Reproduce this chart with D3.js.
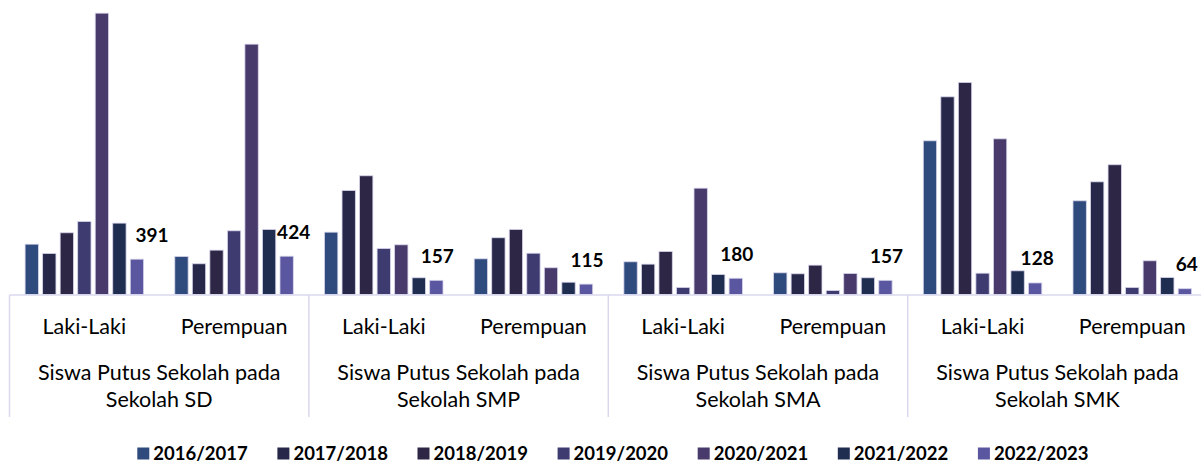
<!DOCTYPE html>
<html>
<head>
<meta charset="utf-8">
<script src="https://cdn.jsdelivr.net/npm/d3@7"></script>
<style>
  body { margin: 0; background: #fff; }
  text { font-family: Lato, "Open Sans", sans-serif; fill: #000; }
</style>
</head>
<body>
<div id="chart"></div>
<script>
// Data
const groups = ['Sekolah SD', 'Sekolah SMP', 'Sekolah SMA', 'Sekolah SMK'];
const genders = ['Laki-Laki', 'Perempuan'];
const years = ['2016/2017', '2017/2018', '2018/2019', '2019/2020', '2020/2021', '2021/2022', '2022/2023'];

// one array per school year, order: SD L, SD P, SMP L, SMP P, SMA L, SMA P, SMK L, SMK P
const y2016 = [557, 421, 690, 395, 362, 240, 1701, 1037];
const y2017 = [454, 340, 1151, 628, 336, 229, 2188, 1247];
const y2018 = [683, 491, 1314, 720, 476, 325, 2347, 1436];
const y2019 = [808, 705, 509, 457, 78, 44, 236, 78];
const y2020 = [3114, 2771, 550, 296, 1177, 233, 1723, 373];
const y2021 = [790, 720, 185, 136, 221, 185, 262, 188];
const y2022 = [391, 424, 157, 115, 180, 157, 128, 64];

const seriesValues = [y2016, y2017, y2018, y2019, y2020, y2021, y2022];
const colors = ['#2f4b7e', '#272849', '#2e2645', '#3e3b70', '#483a6b', '#1f2d51', '#5a56a0'];

// manual shift of the labels (Excel moved two of them aside)
const labelNudge = [15, 7, 1, 1, 1, 1, 2, 2];

const width = 1201;
const height = 466;

const svg = d3.select('#chart')
  .append('svg')
  .attr('width', width)
  .attr('height', height);

// categories: group|gender
const cats = [];
groups.forEach((g) => genders.forEach((s) => cats.push(g + '|' + s)));

const table = cats.map((c, i) => {
  const row = { key: c };
  years.forEach((y, j) => { row[y] = seriesValues[j][i]; });
  return row;
});

const x0 = d3.scaleBand().domain(cats).range([9.5, 9.5 + 8 * 149.7]);
const x1 = d3.scaleBand().domain(years).range([0, x0.bandwidth()])
  .paddingInner(0.24).paddingOuter(0.89);
const yScale = d3.scaleLinear().domain([0, 3200]).range([294.5, 5.4]);
const color = d3.scaleOrdinal().domain(years).range(colors);

// bars
const catG = svg.selectAll('g.cat')
  .data(table)
  .enter()
  .append('g')
  .attr('class', 'cat')
  .attr('transform', (d) => 'translate(' + x0(d.key) + ',0)');

catG.selectAll('rect')
  .data((d) => years.map((y) => ({ year: y, value: d[y] })))
  .enter()
  .append('rect')
  .attr('x', (d) => x1(d.year))
  .attr('y', (d) => yScale(d.value))
  .attr('width', x1.bandwidth())
  .attr('height', (d) => yScale(0) - yScale(d.value))
  .attr('fill', (d) => color(d.year))
  .attr('stroke', '#d6d4ea')
  .attr('stroke-width', 0.8);

// value labels (last series only)
const last = years[years.length - 1];
catG.append('text')
  .attr('x', (d, i) => x1(last) + x1.bandwidth() / 2 + labelNudge[i])
  .attr('y', (d) => yScale(d[last]) - 17.5)
  .attr('text-anchor', 'middle')
  .attr('font-size', 19)
  .attr('font-weight', 'bold')
  .text((d) => d[last]);

// axis line and group separators
const axisColor = '#d9d8ee';
svg.append('line')
  .attr('x1', 9.5).attr('x2', width)
  .attr('y1', 295).attr('y2', 295)
  .attr('stroke', axisColor).attr('stroke-width', 1.5);

const groupEdges = groups.map((g) => x0(g + '|' + genders[0]));
svg.selectAll('line.sep')
  .data(groupEdges)
  .enter()
  .append('line')
  .attr('class', 'sep')
  .attr('x1', (d) => d).attr('x2', (d) => d)
  .attr('y1', 295).attr('y2', 417)
  .attr('stroke', axisColor).attr('stroke-width', 1.5);

// gender labels
svg.selectAll('text.gender')
  .data(cats)
  .enter()
  .append('text')
  .attr('class', 'gender')
  .attr('x', (d) => x0(d) + x0.bandwidth() / 2)
  .attr('y', 333.5)
  .attr('text-anchor', 'middle')
  .attr('font-size', 21.5)
  .text((d) => d.split('|')[1]);

// group labels (two lines)
const groupText = svg.selectAll('text.group')
  .data(groups)
  .enter()
  .append('text')
  .attr('class', 'group')
  .attr('x', (d) => x0(d + '|' + genders[0]) + x0.bandwidth())
  .attr('y', 379.5)
  .attr('text-anchor', 'middle')
  .attr('font-size', 21.5);

groupText.append('tspan')
  .attr('x', (d) => x0(d + '|' + genders[0]) + x0.bandwidth())
  .text('Siswa Putus Sekolah pada');
groupText.append('tspan')
  .attr('x', (d) => x0(d + '|' + genders[0]) + x0.bandwidth())
  .attr('dy', 27.4)
  .text((d) => d);

// legend
const legend = svg.selectAll('g.legend')
  .data(years)
  .enter()
  .append('g')
  .attr('class', 'legend')
  .attr('transform', (d, i) => 'translate(' + (137.3 + i * 140.1) + ',447.5)');

legend.append('rect')
  .attr('width', 12)
  .attr('height', 12)
  .attr('fill', (d) => color(d));

legend.append('text')
  .attr('x', 16)
  .attr('y', 12)
  .attr('font-size', 18.5)
  .attr('font-weight', 'bold')
  .text((d) => d);
</script>
</body>
</html>
